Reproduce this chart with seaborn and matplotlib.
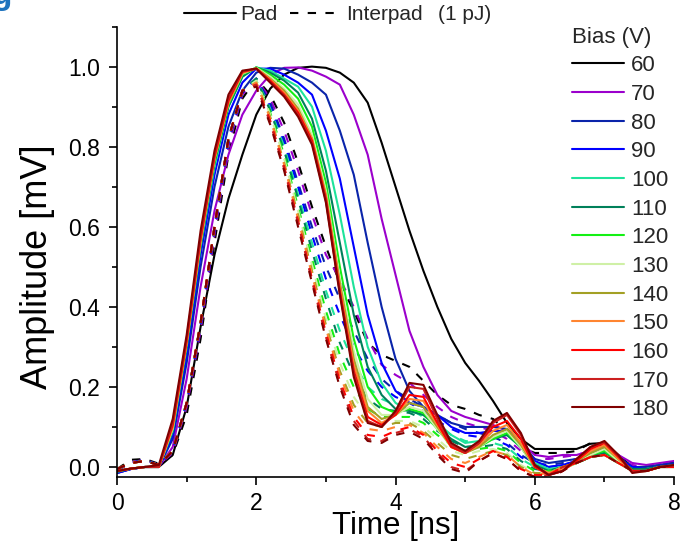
"""Normalised pad / interpad waveforms for a bias scan at 1 pJ."""

import matplotlib
matplotlib.use('Agg')
import pandas as pd
import seaborn as sns
import matplotlib.pyplot as plt
from matplotlib.lines import Line2D
from matplotlib.ticker import MultipleLocator

#########################################################################################
# Data (time in ns, amplitude normalised)
#########################################################################################

time_ns = [0.0, 0.2, 0.4, 0.6, 0.8, 1.0, 1.2, 1.4, 1.6, 1.8, 2.0, 2.2, 2.4, 2.6, 2.8,
           3.0, 3.2, 3.4, 3.6, 3.8, 4.0, 4.2, 4.4, 4.6, 4.8, 5.0, 5.2, 5.4, 5.6, 5.8,
           6.0, 6.2, 6.4, 6.6, 6.8, 7.0, 7.2, 7.4, 7.6, 7.8, 8.0]

bias_v = [60, 70, 80, 90, 100, 110, 120, 130, 140, 150, 160, 170, 180]
bias_colors = ['#000000', '#9B00CC', '#0A24AA', '#0000FF', '#1EE39B', '#00805A', '#14F014',
               '#CFF0A6', '#A3A024', '#FF8530', '#FF0000', '#CC1F1F', '#800000']

# Pad (solid)
pad_60 = [-0.01, -0.005, 0.0, 0.0, 0.03, 0.15, 0.35, 0.53, 0.67, 0.78, 0.88, 0.945, 0.98, 0.997,
          1.0, 0.997, 0.985, 0.96, 0.91, 0.81, 0.7, 0.59, 0.49, 0.4, 0.32, 0.26, 0.215, 0.165,
          0.11, 0.07, 0.045, 0.045, 0.045, 0.045, 0.058, 0.06, 0.03, 0.0, -0.005, 0.0, 0.012]
pad_70 = [-0.015, -0.005, 0.0, 0.0, 0.05, 0.22, 0.45, 0.64, 0.78, 0.88, 0.94, 0.98, 0.997, 0.998,
          0.99, 0.975, 0.955, 0.88, 0.78, 0.62, 0.48, 0.34, 0.25, 0.18, 0.14, 0.125, 0.115, 0.105,
          0.09, 0.06, 0.03, 0.025, 0.03, 0.03, 0.04, 0.05, 0.03, 0.01, 0.005, 0.01, 0.015]
pad_80 = [-0.015, -0.005, 0.0, 0.0, 0.07, 0.26, 0.5, 0.7, 0.85, 0.94, 0.985, 0.997, 0.995, 0.98,
          0.96, 0.93, 0.84, 0.73, 0.56, 0.4, 0.27, 0.19, 0.15, 0.13, 0.11, 0.1, 0.1, 0.1,
          0.095, 0.06, 0.02, 0.01, 0.015, 0.02, 0.035, 0.045, 0.025, 0.0, 0.0, 0.005, 0.01]
pad_90 = [-0.015, -0.005, 0.0, 0.0, 0.08, 0.28, 0.53, 0.73, 0.88, 0.96, 0.995, 0.995, 0.98, 0.96,
          0.93, 0.84, 0.72, 0.55, 0.38, 0.26, 0.19, 0.16, 0.15, 0.13, 0.1, 0.085, 0.085, 0.09,
          0.09, 0.06, 0.015, 0.0, 0.005, 0.015, 0.03, 0.04, 0.02, 0.0, -0.005, 0.0, 0.005]
pad_100 = [-0.012, -0.004, 0.0, 0.0, 0.09, 0.3, 0.55, 0.75, 0.9, 0.975, 0.998, 0.99, 0.97, 0.95,
           0.9, 0.79, 0.63, 0.45, 0.3, 0.21, 0.16, 0.14, 0.13, 0.11, 0.08, 0.06, 0.065, 0.075,
           0.08, 0.05, 0.01, -0.005, 0.0, 0.01, 0.025, 0.035, 0.015, -0.005, -0.005, 0.0, 0.005]
pad_110 = [-0.012, -0.004, 0.0, 0.0, 0.09, 0.3, 0.55, 0.76, 0.9, 0.975, 0.998, 0.985, 0.965, 0.935,
           0.87, 0.74, 0.56, 0.38, 0.25, 0.18, 0.145, 0.14, 0.13, 0.1, 0.07, 0.05, 0.055, 0.07,
           0.08, 0.05, 0.005, -0.01, 0.0, 0.01, 0.025, 0.035, 0.015, -0.005, -0.005, 0.0, 0.005]
pad_120 = [-0.01, -0.004, 0.0, 0.0, 0.095, 0.31, 0.56, 0.765, 0.905, 0.98, 0.998, 0.98, 0.955, 0.92,
           0.85, 0.71, 0.5, 0.32, 0.2, 0.15, 0.135, 0.145, 0.135, 0.095, 0.055, 0.04, 0.05, 0.07,
           0.085, 0.05, 0.0, -0.015, -0.005, 0.01, 0.03, 0.04, 0.015, -0.01, -0.01, 0.0, 0.0]
pad_130 = [-0.01, -0.004, 0.0, 0.0, 0.095, 0.31, 0.56, 0.77, 0.91, 0.982, 0.997, 0.975, 0.945, 0.905,
           0.83, 0.69, 0.47, 0.29, 0.17, 0.13, 0.13, 0.15, 0.14, 0.095, 0.05, 0.035, 0.05, 0.075,
           0.09, 0.05, 0.0, -0.015, -0.005, 0.01, 0.03, 0.045, 0.015, -0.01, -0.01, 0.0, 0.0]
pad_140 = [-0.01, -0.004, 0.0, 0.0, 0.1, 0.31, 0.565, 0.77, 0.91, 0.984, 0.996, 0.97, 0.94, 0.895,
           0.82, 0.68, 0.46, 0.27, 0.15, 0.12, 0.13, 0.16, 0.15, 0.1, 0.05, 0.035, 0.05, 0.08,
           0.095, 0.055, 0.0, -0.015, -0.005, 0.015, 0.035, 0.05, 0.02, -0.01, -0.01, 0.0, 0.0]
pad_150 = [-0.01, -0.004, 0.0, 0.0, 0.1, 0.31, 0.565, 0.77, 0.91, 0.985, 0.995, 0.968, 0.935, 0.89,
           0.82, 0.675, 0.45, 0.255, 0.14, 0.11, 0.13, 0.17, 0.165, 0.105, 0.05, 0.035, 0.055, 0.09,
           0.105, 0.06, 0.0, -0.015, -0.005, 0.015, 0.04, 0.055, 0.02, -0.01, -0.01, 0.0, 0.0]
pad_160 = [-0.01, -0.004, 0.0, 0.0, 0.105, 0.315, 0.57, 0.775, 0.915, 0.987, 0.995, 0.965, 0.93, 0.885,
           0.815, 0.67, 0.44, 0.24, 0.125, 0.105, 0.13, 0.18, 0.175, 0.11, 0.05, 0.035, 0.06, 0.1,
           0.115, 0.07, 0.0, -0.02, -0.01, 0.015, 0.045, 0.06, 0.025, -0.01, -0.01, 0.0, 0.0]
pad_170 = [-0.01, -0.004, 0.0, 0.0, 0.11, 0.32, 0.575, 0.78, 0.92, 0.988, 0.995, 0.962, 0.928, 0.88,
           0.81, 0.665, 0.435, 0.235, 0.115, 0.1, 0.135, 0.2, 0.195, 0.12, 0.055, 0.035, 0.06, 0.11,
           0.13, 0.08, 0.005, -0.02, -0.01, 0.02, 0.05, 0.062, 0.028, -0.012, -0.01, 0.0, 0.003]
pad_180 = [-0.01, -0.004, 0.0, 0.005, 0.12, 0.33, 0.59, 0.79, 0.93, 0.99, 0.995, 0.96, 0.925, 0.875,
           0.805, 0.66, 0.43, 0.225, 0.11, 0.1, 0.14, 0.21, 0.205, 0.13, 0.06, 0.04, 0.065, 0.115,
           0.135, 0.085, 0.005, -0.02, -0.01, 0.02, 0.05, 0.065, 0.03, -0.015, -0.01, 0.0, 0.005]

# Interpad (dashed)
interpad_60 = [-0.005, 0.018, 0.02, 0.008, 0.03, 0.13, 0.32, 0.56, 0.78, 0.92, 0.97, 0.93, 0.86, 0.76,
               0.65, 0.55, 0.46, 0.39, 0.31, 0.28, 0.265, 0.25, 0.215, 0.18, 0.155, 0.145, 0.13, 0.12,
               0.09, 0.05, 0.035, 0.035, 0.035, 0.04, 0.06, 0.05, 0.02, 0.0, 0.0, 0.005, 0.01]
interpad_70 = [-0.008, 0.012, 0.018, 0.005, 0.035, 0.15, 0.34, 0.58, 0.8, 0.93, 0.97, 0.92, 0.84, 0.74,
               0.63, 0.53, 0.47, 0.4, 0.32, 0.255, 0.23, 0.21, 0.18, 0.15, 0.125, 0.11, 0.1, 0.09,
               0.07, 0.04, 0.02, 0.02, 0.025, 0.03, 0.04, 0.045, 0.02, 0.005, 0.0, 0.005, 0.01]
interpad_80 = [-0.008, 0.01, 0.018, 0.005, 0.04, 0.16, 0.35, 0.59, 0.81, 0.935, 0.97, 0.91, 0.82, 0.71,
               0.6, 0.5, 0.42, 0.34, 0.27, 0.22, 0.19, 0.17, 0.15, 0.13, 0.11, 0.095, 0.085, 0.075,
               0.06, 0.03, 0.01, 0.005, 0.01, 0.02, 0.03, 0.04, 0.02, 0.0, 0.0, 0.005, 0.005]
interpad_90 = [-0.008, 0.01, 0.018, 0.005, 0.04, 0.16, 0.36, 0.6, 0.82, 0.94, 0.97, 0.9, 0.81, 0.7,
               0.58, 0.47, 0.38, 0.3, 0.24, 0.2, 0.175, 0.16, 0.14, 0.115, 0.095, 0.08, 0.075, 0.07,
               0.055, 0.025, 0.005, 0.0, 0.005, 0.015, 0.03, 0.035, 0.015, 0.0, -0.005, 0.0, 0.005]
interpad_100 = [-0.006, 0.01, 0.016, 0.005, 0.04, 0.16, 0.36, 0.6, 0.82, 0.94, 0.97, 0.895, 0.8, 0.68,
                0.56, 0.44, 0.34, 0.26, 0.2, 0.17, 0.155, 0.145, 0.125, 0.1, 0.08, 0.065, 0.06, 0.06,
                0.05, 0.02, 0.0, -0.005, 0.0, 0.01, 0.025, 0.03, 0.01, -0.005, -0.005, 0.0, 0.0]
interpad_110 = [-0.006, 0.01, 0.016, 0.005, 0.04, 0.16, 0.36, 0.6, 0.82, 0.94, 0.97, 0.89, 0.79, 0.67,
                0.54, 0.42, 0.31, 0.23, 0.17, 0.145, 0.14, 0.135, 0.12, 0.09, 0.065, 0.05, 0.05, 0.055,
                0.045, 0.015, -0.005, -0.01, 0.0, 0.01, 0.025, 0.03, 0.01, -0.005, -0.005, 0.0, 0.0]
interpad_120 = [-0.005, 0.01, 0.015, 0.005, 0.04, 0.16, 0.36, 0.6, 0.82, 0.94, 0.965, 0.885, 0.78, 0.65,
                0.52, 0.39, 0.28, 0.2, 0.145, 0.125, 0.125, 0.125, 0.11, 0.08, 0.055, 0.04, 0.045, 0.05,
                0.04, 0.01, -0.01, -0.01, 0.0, 0.01, 0.025, 0.03, 0.01, -0.01, -0.01, 0.0, 0.0]
interpad_130 = [-0.005, 0.01, 0.015, 0.005, 0.04, 0.16, 0.36, 0.6, 0.82, 0.94, 0.965, 0.88, 0.77, 0.64,
                0.505, 0.37, 0.26, 0.175, 0.125, 0.11, 0.115, 0.115, 0.1, 0.07, 0.04, 0.03, 0.04, 0.045,
                0.035, 0.005, -0.015, -0.015, 0.0, 0.01, 0.025, 0.03, 0.01, -0.01, -0.01, 0.0, 0.0]
interpad_140 = [-0.005, 0.01, 0.015, 0.005, 0.04, 0.16, 0.36, 0.6, 0.82, 0.94, 0.96, 0.875, 0.76, 0.63,
                0.49, 0.355, 0.24, 0.155, 0.11, 0.1, 0.11, 0.11, 0.09, 0.06, 0.03, 0.02, 0.03, 0.04,
                0.03, 0.0, -0.015, -0.015, 0.0, 0.01, 0.025, 0.03, 0.01, -0.01, -0.01, 0.0, 0.0]
interpad_150 = [-0.005, 0.01, 0.015, 0.005, 0.04, 0.16, 0.36, 0.6, 0.82, 0.94, 0.96, 0.87, 0.755, 0.62,
                0.48, 0.345, 0.23, 0.14, 0.095, 0.09, 0.1, 0.105, 0.085, 0.05, 0.02, 0.01, 0.025, 0.04,
                0.03, 0.0, -0.02, -0.015, 0.0, 0.01, 0.025, 0.03, 0.01, -0.01, -0.01, 0.0, 0.0]
interpad_160 = [-0.005, 0.01, 0.015, 0.005, 0.04, 0.16, 0.36, 0.6, 0.82, 0.94, 0.955, 0.865, 0.75, 0.615,
                0.47, 0.335, 0.215, 0.125, 0.08, 0.075, 0.09, 0.1, 0.08, 0.04, 0.01, 0.0, 0.02, 0.04,
                0.025, -0.005, -0.02, -0.02, 0.0, 0.01, 0.025, 0.03, 0.01, -0.01, -0.01, 0.0, 0.0]
interpad_170 = [-0.005, 0.01, 0.015, 0.005, 0.04, 0.16, 0.36, 0.6, 0.82, 0.94, 0.955, 0.86, 0.745, 0.61,
                0.465, 0.325, 0.205, 0.115, 0.07, 0.065, 0.085, 0.095, 0.075, 0.035, 0.0, -0.01, 0.015, 0.035,
                0.02, -0.01, -0.025, -0.02, 0.0, 0.01, 0.025, 0.03, 0.01, -0.01, -0.01, 0.0, 0.0]
interpad_180 = [-0.005, 0.01, 0.015, 0.005, 0.04, 0.16, 0.36, 0.6, 0.82, 0.94, 0.95, 0.855, 0.74, 0.6,
                0.46, 0.32, 0.2, 0.105, 0.065, 0.06, 0.08, 0.088, 0.07, 0.03, -0.005, -0.015, 0.015, 0.035,
                0.02, -0.01, -0.025, -0.03, -0.01, 0.01, 0.025, 0.03, 0.01, -0.01, -0.01, 0.0, 0.0]

pad_curves = [pad_60, pad_70, pad_80, pad_90, pad_100, pad_110, pad_120,
              pad_130, pad_140, pad_150, pad_160, pad_170, pad_180]
interpad_curves = [interpad_60, interpad_70, interpad_80, interpad_90, interpad_100,
                   interpad_110, interpad_120, interpad_130, interpad_140, interpad_150,
                   interpad_160, interpad_170, interpad_180]

#########################################################################################
# Build long table for seaborn
#########################################################################################

rows = []
for bias, pad, interpad in zip(bias_v, pad_curves, interpad_curves):
    for kind, vals in (('Interpad', interpad), ('Pad', pad)):
        for t, v in zip(time_ns, vals):
            rows.append((t, v, str(bias), kind))
df = pd.DataFrame(rows, columns=['time', 'amplitude', 'bias', 'kind'])

bias_labels = [str(b) for b in bias_v]
palette = dict(zip(bias_labels, bias_colors))
dash_pat = (4, 4.5)

#########################################################################################
# Plot
#########################################################################################

sns.set_theme(style='ticks')
plt.rcParams['font.family'] = ['Liberation Sans', 'DejaVu Sans']

fig = plt.figure(figsize=(6.86, 5.54), dpi=100)
ax = fig.add_axes([0.1706, 0.139, 0.812, 0.813])

sns.lineplot(data=df, x='time', y='amplitude', hue='bias', style='kind',
             hue_order=bias_labels, style_order=['Interpad', 'Pad'],
             palette=palette, dashes={'Pad': '', 'Interpad': dash_pat},
             estimator=None, sort=False, errorbar=None, linewidth=1.5,
             legend=False, ax=ax)

# Axes limits & ticks
ax.set_xlim(0, 8)
ax.set_ylim(-0.025, 1.1)
ax.xaxis.set_major_locator(MultipleLocator(2))
ax.xaxis.set_minor_locator(MultipleLocator(1))
ax.yaxis.set_major_locator(MultipleLocator(0.2))
ax.yaxis.set_minor_locator(MultipleLocator(0.1))
ax.yaxis.set_major_formatter(plt.FormatStrFormatter('%.1f'))

sns.despine(ax=ax)
for side in ['left', 'bottom']:
    ax.spines[side].set_linewidth(1.2)
    ax.spines[side].set_color('black')
ax.tick_params(which='major', direction='out', length=6, width=1.2, color='black',
               labelsize=16.5, labelcolor='black')
ax.tick_params(which='minor', direction='out', length=3.5, width=1.2, color='black')
ax.tick_params(axis='y', which='major', pad=6.5)
ax.tick_params(axis='x', which='major', pad=4.5)

ax.set_xlabel('Time [ns]', fontsize=22.5, color='black', labelpad=-2.5)
ax.set_ylabel('Amplitude [mV]', fontsize=26, color='black')
ax.yaxis.set_label_coords(-0.111, 0.466)

# Bias legend
bias_handles = [Line2D([], [], color=c, lw=1.5) for c in bias_colors]
leg = ax.legend(bias_handles, bias_labels, title='Bias (V)', loc='upper left',
                bbox_to_anchor=(0.817, 1.0), frameon=False, fontsize=16, title_fontsize=16,
                handlelength=2.35, handletextpad=0.3, labelspacing=0.345,
                borderpad=0, borderaxespad=0)
leg._legend_box.align = 'left'

# Pad / Interpad key above the axes
kind_handles = [Line2D([], [], color='black', lw=1.5),
                Line2D([], [], color='black', lw=1.5, dashes=dash_pat)]
fig.legend(kind_handles, ['Pad', 'Interpad'], loc='center left',
           bbox_to_anchor=(184 / 686, 1 - 15 / 554), ncol=2, frameon=False,
           fontsize=15, handlelength=2.5, handletextpad=0.2, columnspacing=0.6,
           borderpad=0, borderaxespad=0)
fig.text(438 / 686, 1 - 15 / 554, '(1 pJ)', fontsize=15, va='center', ha='left')

# Panel letter, cut by the top edge
fig.text(-8 / 686, 1 - 4 / 554, 'g', fontsize=24, fontweight='bold', color='#1E73BE',
         va='baseline', ha='left')

fig.savefig('out.png', dpi=100)
